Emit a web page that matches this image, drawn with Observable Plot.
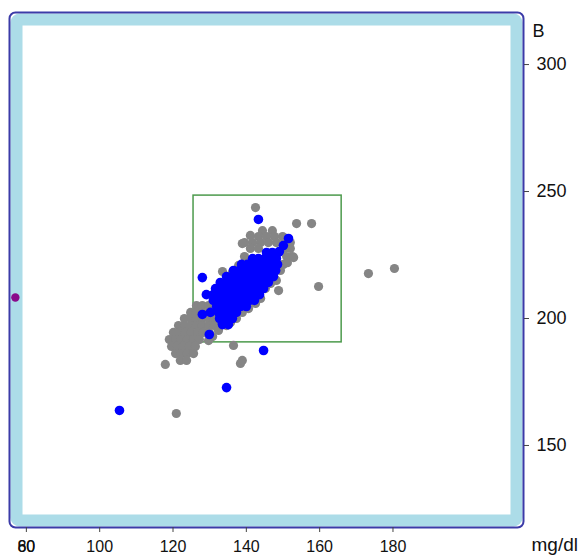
<!DOCTYPE html>
<html>
<head>
<meta charset="utf-8">
<script src="https://cdn.jsdelivr.net/npm/d3@7"></script>
<script src="https://cdn.jsdelivr.net/npm/@observablehq/plot@0.6"></script>
<style>
  html, body { margin: 0; padding: 0; background: #fff; }
  #chart svg { display: block; }
</style>
</head>
<body>
<div id="chart"></div>
<script>
// ---- data, [x, y] pairs ----
const grayBand = [
  [126.4,205.1],[128.0,205.1],[129.7,205.1],
  [124.8,202.4],[126.4,202.4],[128.0,202.4],[129.7,202.4],
  [123.1,200.0],[124.8,200.0],[126.4,200.0],[128.0,200.0],[129.7,200.0],[131.0,200.0],
  [121.5,197.2],[123.1,197.2],[124.8,197.2],[126.4,197.2],[128.0,197.2],[129.7,197.2],[131.3,197.2],
  [120.1,194.5],[121.8,194.5],[123.4,194.5],[125.0,194.5],[126.7,194.5],[128.3,194.5],[129.9,194.5],
  [119.0,191.7],[120.7,191.7],[122.3,191.7],[123.9,191.7],[125.6,191.7],[127.2,191.7],
  [119.6,189.0],[121.2,189.0],[122.8,189.0],[124.5,189.0],[126.1,189.0],
  [120.7,186.2],[122.3,186.2],[123.9,186.2],[125.6,186.2],
  [122.0,183.5],[123.7,183.5],
  [117.9,181.9]
];
const grayUpper = [
  [144.4,234.6],[147.1,234.6],
  [143.3,232.3],[145.5,232.3],[147.7,232.3],[149.9,232.3],
  [139.5,229.9],[141.7,229.9],[143.9,229.9],[146.0,229.9],[148.2,229.9],[150.4,229.9],[152.0,229.9],
  [141.1,227.6],[143.3,227.6],[150.4,227.6],[152.0,227.6],
  [139.5,224.4],[151.0,224.4],[152.6,224.4],
  [150.1,221.3],[149.3,218.9],[148.2,215.0],[148.8,211.0],
  [137.9,220.9],[140.0,222.8],[136.2,218.1]
];
const grayEdge = [
  [146.6,213.8],[145.2,211.8],[143.9,207.9],[142.5,205.9],[140.6,203.9],[138.9,202.4],
  [137.3,200.0],[135.7,198.4],[134.6,197.2],[132.4,195.3],[130.8,192.9],[129.7,191.3]
];
const grayOutliers = [
  [133.5,218.5],[138.9,229.5],[141.1,232.7],[142.5,243.7],[153.7,237.4],[157.8,237.4],
  [159.7,212.6],[173.3,217.7],[180.4,219.7],[136.5,189.4],[138.4,182.3],[138.9,183.5],
  [120.9,162.6],[152.9,224.0],[151.2,222.0],[134.9,213.8]
];
const blueCore = [
  [145.5,226.0],[147.1,226.0],[148.8,226.0],
  [141.7,223.6],[143.3,223.6],[145.0,223.6],[146.6,223.6],[148.2,223.6],
  [138.7,221.3],[140.3,221.3],[141.9,221.3],[143.6,221.3],[145.2,221.3],[146.9,221.3],[148.5,221.3],
  [136.5,218.9],[138.1,218.9],[139.8,218.9],[141.4,218.9],[143.0,218.9],[144.7,218.9],[146.3,218.9],[148.0,218.9],
  [134.6,216.5],[136.2,216.5],[137.9,216.5],[139.5,216.5],[141.1,216.5],[142.8,216.5],[144.4,216.5],[146.0,216.5],[147.4,216.5],
  [132.9,214.2],[134.6,214.2],[136.2,214.2],[137.9,214.2],[139.5,214.2],[141.1,214.2],[142.8,214.2],[144.4,214.2],[146.0,214.2],
  [131.6,211.8],[133.2,211.8],[134.9,211.8],[136.5,211.8],[138.1,211.8],[139.8,211.8],[141.4,211.8],[143.0,211.8],[144.7,211.8],
  [131.0,209.4],[132.7,209.4],[134.3,209.4],[135.9,209.4],[137.6,209.4],[139.2,209.4],[140.9,209.4],[142.5,209.4],[143.6,209.4],
  [131.0,207.1],[132.7,207.1],[134.3,207.1],[135.9,207.1],[137.6,207.1],[139.2,207.1],[140.9,207.1],[142.2,207.1],
  [131.9,204.7],[133.5,204.7],[135.1,204.7],[136.8,204.7],[138.4,204.7],[140.0,204.7],
  [132.4,202.4],[134.0,202.4],[135.7,202.4],[137.3,202.4],
  [132.7,200.0],[134.3,200.0],[136.2,200.0],
  [133.5,197.6],[135.1,197.6]
];
const blueOutliers = [
  [143.3,239.0],[151.5,231.5],[149.0,226.4],[150.1,228.7],[128.0,216.1],[129.1,209.4],
  [128.0,201.6],[130.2,202.4],[133.5,198.0],[129.9,193.7],[144.7,187.4],[134.6,172.8],[105.4,163.8]
];
const purplePoints = [[77.0,208.3]];

const boxX = [125.6, 166.0];
const boxY = [190.6, 248.4];

const xTicks = [80, 100, 120, 140, 160, 180];
const xExtraTick = [80];
const xExtraLabel = "60";
const yTicks = [150, 200, 250, 300];
const xDomain = [75.4, 215.6];
const yDomain = [117.7, 320.5];
const yTitle = "B";
const xTitle = "mg/dl";

// ---- build tables ----
const toRows = (arr) => arr.map(([x, y]) => ({x, y}));
const gray = toRows([...grayBand, ...grayUpper, ...grayEdge, ...grayOutliers]);
const blue = toRows([...blueCore, ...blueOutliers]);
const purple = toRows(purplePoints);
const box = [{x1: boxX[0], x2: boxX[1], y1: boxY[0], y2: boxY[1]}];

const font = "'Liberation Sans', Arial, sans-serif";

const chart = Plot.plot({
  width: 586,
  height: 555,
  marginLeft: 9,
  marginRight: 63,
  marginTop: 12,
  marginBottom: 28,
  style: {fontFamily: font, fontSize: "16px", color: "#111", background: "#fff"},
  x: {domain: xDomain},
  y: {domain: yDomain},
  marks: [
    Plot.frame({stroke: "#acdce8", strokeWidth: 12, inset: 7, rx: 3}),
    Plot.frame({stroke: "#3b3ba8", strokeWidth: 2, rx: 6}),
    Plot.rect(box, {x1: "x1", x2: "x2", y1: "y1", y2: "y2", fill: "none", stroke: "#4c9a4c", strokeWidth: 1.5}),
    Plot.dot(gray, {x: "x", y: "y", r: 4.6, fill: "#858585", stroke: "none"}),
    Plot.dot(blue, {x: "x", y: "y", r: 4.8, fill: "#0000ff", stroke: "none"}),
    Plot.dot(purple, {x: "x", y: "y", r: 4.2, fill: "#8a0a8a", stroke: "none"}),
    Plot.axisX(xTicks, {anchor: "bottom", tickSize: 5, tickPadding: 8, fontSize: 16, stroke: "#444"}),
    Plot.axisX(xExtraTick, {anchor: "bottom", tickSize: 0, tickPadding: 13, fontSize: 16, tickFormat: () => xExtraLabel}),
    Plot.axisY(yTicks, {anchor: "right", tickSize: 5, tickPadding: 8, fontSize: 18, stroke: "#444"}),
    Plot.text([yTitle], {frameAnchor: "top-right", dx: 9, dy: 12, textAnchor: "start", fontSize: 18, fill: "#111"}),
    Plot.text([xTitle], {frameAnchor: "bottom-right", dx: 8, dy: 23, textAnchor: "start", fontSize: 19, fill: "#111"})
  ]
});
document.getElementById("chart").appendChild(chart);
</script>
</body>
</html>
